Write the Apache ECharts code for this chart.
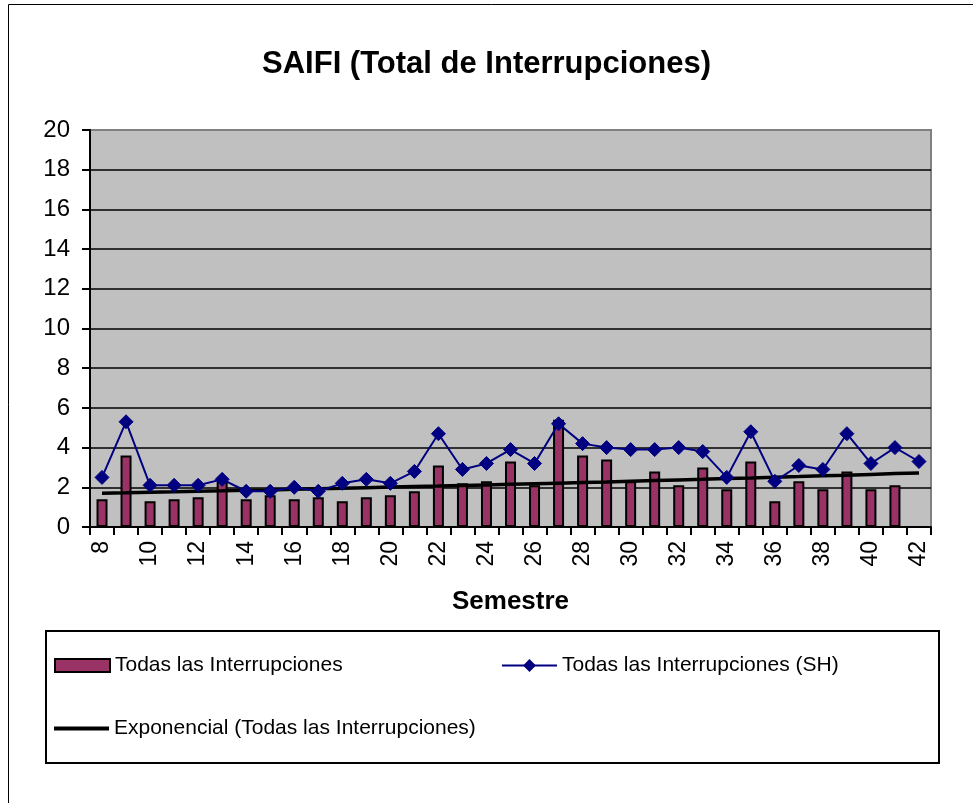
<!DOCTYPE html>
<html>
<head>
<meta charset="utf-8">
<script src="https://cdn.jsdelivr.net/npm/echarts@6/dist/echarts.min.js"></script>
<style>
  html, body { margin: 0; padding: 0; background: #fff; }
  #chart { width: 973px; height: 803px; }
</style>
</head>
<body>
<div id="chart"></div>
<script>
// semestres 8..42
var semestres = ['8','9','10','11','12','13','14','15','16','17','18','19','20','21','22','23','24',
  '25','26','27','28','29','30','31','32','33','34','35','36','37','38','39','40','41','42'];
// Todas las Interrupciones (barras)
var todas = [1.4, 3.6, 1.3, 1.4, 1.5, 2.3, 1.4, 1.6, 1.4, 1.5, 1.3, 1.5, 1.6, 1.8, 3.1, 2.2, 2.3,
  3.3, 2.1, 5.4, 3.6, 3.4, 2.3, 2.8, 2.1, 3.0, 1.9, 3.3, 1.3, 2.3, 1.9, 2.8, 1.9, 2.1, null];
// Todas las Interrupciones (SH)
var todasSH = [2.5, 5.3, 2.1, 2.1, 2.1, 2.4, 1.8, 1.8, 2.0, 1.8, 2.2, 2.4, 2.2, 2.8, 4.7, 2.9, 3.2,
  3.9, 3.2, 5.2, 4.2, 4.0, 3.9, 3.9, 4.0, 3.8, 2.5, 4.8, 2.3, 3.1, 2.9, 4.7, 3.2, 4.0, 3.3];
// Exponencial (Todas las Interrupciones)
var tendencia = [1.70, 1.72, 1.75, 1.77, 1.80, 1.82, 1.85, 1.87, 1.90, 1.93, 1.95, 1.98, 2.01, 2.04, 2.06, 2.09, 2.12,
  2.15, 2.18, 2.21, 2.24, 2.27, 2.31, 2.34, 2.37, 2.40, 2.44, 2.47, 2.51, 2.54, 2.58, 2.61, 2.65, 2.69, 2.72];

var nomBar = 'Todas las Interrupciones';
var nomSH = 'Todas las Interrupciones (SH)';
var nomExp = 'Exponencial (Todas las Interrupciones)';

var fuente = 'Arial, "Liberation Sans", sans-serif';
var myChart = echarts.init(document.getElementById('chart'));

var legendaBase = {
  orient: 'horizontal',
  itemWidth: 55,
  itemHeight: 13,
  itemGap: 0,
  padding: 0,
  textStyle: { fontFamily: fuente, fontSize: 21, color: '#000', padding: [0, 0, 0, 0] },
  selectedMode: false
};

var option = {
  backgroundColor: '#fff',
  animation: false,
  title: {
    text: 'SAIFI (Total de Interrupciones)',
    left: 'center',
    top: 44,
    textStyle: { fontFamily: fuente, fontSize: 31, fontWeight: 'bold', color: '#000' }
  },
  graphic: [
    { type: 'rect', shape: { x: 8.5, y: 4.5, width: 1000, height: 900 },
      style: { fill: null, stroke: '#000', lineWidth: 1 }, z: -10 },
    { type: 'rect', shape: { x: 46, y: 631, width: 893, height: 132 },
      style: { fill: '#fff', stroke: '#000', lineWidth: 2 }, z: -5 }
  ],
  legend: [
    Object.assign({}, legendaBase, { data: [{ name: nomBar, icon: 'rect',
      itemStyle: { color: '#993366', borderColor: '#000', borderWidth: 2 } }], left: 54, top: 655 }),
    Object.assign({}, legendaBase, { data: [nomSH], left: 501, top: 655, itemHeight: 16 }),
    Object.assign({}, legendaBase, { data: [{ name: nomExp, icon: 'rect' }], left: 54, top: 718, itemHeight: 4 })
  ],
  grid: {
    left: 90, right: 42, top: 130, bottom: 276,
    show: true, backgroundColor: '#C0C0C0', borderColor: '#808080', borderWidth: 2
  },
  xAxis: {
    type: 'category',
    data: semestres,
    boundaryGap: true,
    name: 'Semestre',
    nameLocation: 'middle',
    nameGap: 62,
    nameTextStyle: { fontFamily: fuente, fontSize: 26, fontWeight: 'bold', color: '#000' },
    axisLine: { lineStyle: { color: '#000', width: 2 } },
    axisTick: { show: true, length: 8, interval: 0, lineStyle: { color: '#000', width: 2 } },
    axisLabel: { interval: 1, rotate: 90, margin: 14, fontFamily: fuente, fontSize: 23, color: '#000' },
    splitLine: { show: false }
  },
  yAxis: {
    type: 'value',
    min: 0, max: 20, interval: 2,
    axisLine: { show: true, lineStyle: { color: '#000', width: 2 } },
    axisTick: { show: true, length: 8, lineStyle: { color: '#000', width: 2 } },
    axisLabel: { margin: 20, fontFamily: fuente, fontSize: 24, color: '#000' },
    splitLine: { lineStyle: { color: ['#000','#000','#000','#000','#000','#000','#000','#000','#000','#000','#808080'], width: 1.5 } }
  },
  series: [
    {
      name: nomBar,
      type: 'bar',
      data: todas,
      barWidth: 11,
      itemStyle: { color: '#993366', borderColor: '#000', borderWidth: 2 },
      z: 2
    },
    {
      name: nomSH,
      type: 'line',
      data: todasSH,
      symbol: 'diamond',
      symbolSize: 14,
      lineStyle: { color: '#000080', width: 2 },
      itemStyle: { color: '#000080', borderColor: '#000080' },
      z: 4
    },
    {
      name: nomExp,
      type: 'line',
      data: tendencia,
      symbol: 'none',
      lineStyle: { color: '#000', width: 3.5 },
      itemStyle: { color: '#000' },
      z: 3
    }
  ]
};
myChart.setOption(option, true);
</script>
</body>
</html>
